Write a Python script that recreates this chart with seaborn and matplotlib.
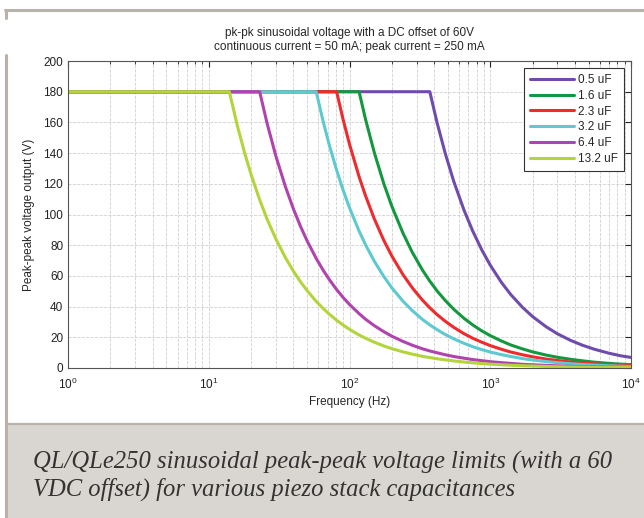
import numpy as np
import pandas as pd
import seaborn as sns
import matplotlib.pyplot as plt
from matplotlib.patches import Rectangle
from matplotlib.lines import Line2D

# frequency grid (Hz) shared by all curves
freq = [1, 14, 16, 18, 20, 23, 26, 30, 35, 40, 45, 50, 58, 65, 72, 81, 90, 100,
        117, 130, 150, 175, 200, 240, 280, 330, 372, 420, 480, 550, 650, 750,
        870, 1000, 1200, 1400, 1700, 2000, 2500, 3000, 3700, 4500, 5500, 7000,
        8500, 10000]

labels = ['0.5 uF', '1.6 uF', '2.3 uF', '3.2 uF', '6.4 uF', '13.2 uF']
colors = ['#6f4cab', '#14983f', '#ee2b2e', '#5ccad0', '#b043ad', '#b3d43a']

v_05 = [180] * 27 + [159.4, 139.5, 121.7, 103.0, 89.3, 77.0, 67.0, 55.8, 47.8,
                     39.4, 33.5, 26.8, 22.3, 18.1, 14.9, 12.2, 9.6, 7.9, 6.9]
v_16 = [180] * 19 + [162.0, 140.4, 120.3, 105.3, 87.8, 75.2, 63.8, 56.6, 50.1,
                     43.9, 38.3, 32.4, 28.1, 24.2, 21.1, 17.6, 15.0, 12.4, 10.5,
                     8.4, 7.0, 5.7, 4.7, 3.8, 3.0, 2.5, 2.2]
v_23 = [180] * 16 + [162.0, 145.8, 124.6, 112.2, 97.2, 83.3, 72.9, 60.8, 52.1,
                     44.2, 39.2, 34.7, 30.4, 26.5, 22.4, 19.4, 16.8, 14.6, 12.2,
                     10.4, 8.6, 7.3, 5.8, 4.9, 3.9, 3.2, 2.7, 2.1, 1.7, 1.5]
v_32 = [180] * 13 + [160.6, 145.0, 128.9, 116.0, 104.4, 89.2, 80.3, 69.6, 59.7,
                     52.2, 43.5, 37.3, 31.6, 28.1, 24.9, 21.8, 19.0, 16.1, 13.9,
                     12.0, 10.4, 8.7, 7.5, 6.1, 5.2, 4.2, 3.5, 2.8, 2.3, 1.9,
                     1.5, 1.2, 1.0]
v_64 = [180] * 6 + [159.2, 138.0, 118.3, 103.5, 92.0, 82.8, 71.4, 63.7, 57.5,
                    51.1, 46.0, 41.4, 35.4, 31.8, 27.6, 23.7, 20.7, 17.3, 14.8,
                    12.5, 11.1, 9.9, 8.6, 7.5, 6.4, 5.5, 4.8, 4.1, 3.5, 3.0, 2.4,
                    2.1, 1.7, 1.4, 1.1, 0.9, 0.8, 0.6, 0.5, 0.4]
v_132 = [180, 180, 157.5, 140.0, 126.0, 109.6, 96.9, 84.0, 72.0, 63.0, 56.0,
         50.4, 43.4, 38.8, 35.0, 31.1, 28.0, 25.2, 21.5, 19.4, 16.8, 14.4, 12.6,
         10.5, 9.0, 7.6, 6.8, 6.0, 5.3, 4.6, 3.9, 3.4, 2.9, 2.5, 2.1, 1.8, 1.5,
         1.3, 1.0, 0.8, 0.7, 0.6, 0.5, 0.4, 0.3, 0.3]

series = [v_05, v_16, v_23, v_32, v_64, v_132]

frames = []
for lab, vals in zip(labels, series):
    frames.append(pd.DataFrame({'freq': freq, 'volt': vals, 'cap': lab}))
df = pd.concat(frames, ignore_index=True)

sns.set_style('white')
plt.rcParams['font.family'] = ['Liberation Sans', 'DejaVu Sans']
plt.rcParams['mathtext.fontset'] = 'custom'
plt.rcParams['mathtext.rm'] = 'Liberation Sans'

fig = plt.figure(figsize=(6.44, 5.18), dpi=100)

# page decoration: top rule, left border, caption box
fig.add_artist(Line2D([5 / 644, 1], [1 - 9.5 / 518] * 2, color='#b8b2aa', lw=2.2))
fig.add_artist(Line2D([6 / 644] * 2, [1 - 9.5 / 518, 1 - 18 / 518], color='#b8b2aa', lw=2.2))
fig.add_artist(Line2D([6 / 644] * 2, [0, 1 - 55 / 518], color='#b8b2aa', lw=2.2))
fig.add_artist(Rectangle((7 / 644, 0), 1, 94 / 518, facecolor='#d9d5d0',
                         edgecolor='none'))
fig.add_artist(Line2D([7 / 644, 1], [94.5 / 518] * 2, color='#b8b2aa', lw=1.6))
fig.text(33 / 644, 1 - 462 / 518,
         'QL/QLe250 sinusoidal peak-peak voltage limits (with a 60',
         family=['Liberation Serif'], style='italic', fontsize=17.7,
         color='#333333', va='center')
fig.text(33 / 644, 1 - 489 / 518,
         'VDC offset) for various piezo stack capacitances',
         family=['Liberation Serif'], style='italic', fontsize=17.7,
         color='#333333', va='center')

ax = fig.add_axes([68 / 644, 1 - 368 / 518, 563 / 644, 307 / 518])
sns.lineplot(data=df, x='freq', y='volt', hue='cap', hue_order=labels,
             palette=colors, linewidth=2.2, ax=ax, sort=False)

ax.set_xscale('log')
ax.set_xlim(1, 1e4)
ax.set_ylim(0, 200)
ax.set_yticks(np.arange(0, 201, 20))
ax.grid(True, which='major', axis='both', color='#d0d0d0', ls='--', lw=0.6)
ax.grid(True, which='minor', axis='x', color='#d0d0d0', ls='--', lw=0.6)
ax.tick_params(which='both', direction='in', top=True, right=True,
               labelsize=8.5, colors='#222222')
ax.tick_params(which='major', length=4)
ax.tick_params(which='minor', length=2.5)
ax.tick_params(axis='x', which='major', pad=6)
for s in ax.spines.values():
    s.set_color('#555555')
    s.set_linewidth(0.8)

ax.set_xlabel('Frequency (Hz)', fontsize=8.5, labelpad=3)
ax.set_ylabel('Peak-peak voltage output (V)', fontsize=8.5, labelpad=6)
ax.set_title('pk-pk sinusoidal voltage with a DC offset of 60V\n'
             'continuous current = 50 mA; peak current = 250 mA',
             fontsize=8.5, pad=8, linespacing=1.2)

leg = ax.legend(loc='upper right', fontsize=8.5, frameon=True, fancybox=False,
                edgecolor='#333333', framealpha=1, handlelength=3.8,
                labelspacing=0.32, borderaxespad=0.6, handletextpad=0.3,
                borderpad=0.5)
leg.get_frame().set_linewidth(0.8)
for line in leg.get_lines():
    line.set_linewidth(2.2)

fig.savefig('out.png', dpi=100)
